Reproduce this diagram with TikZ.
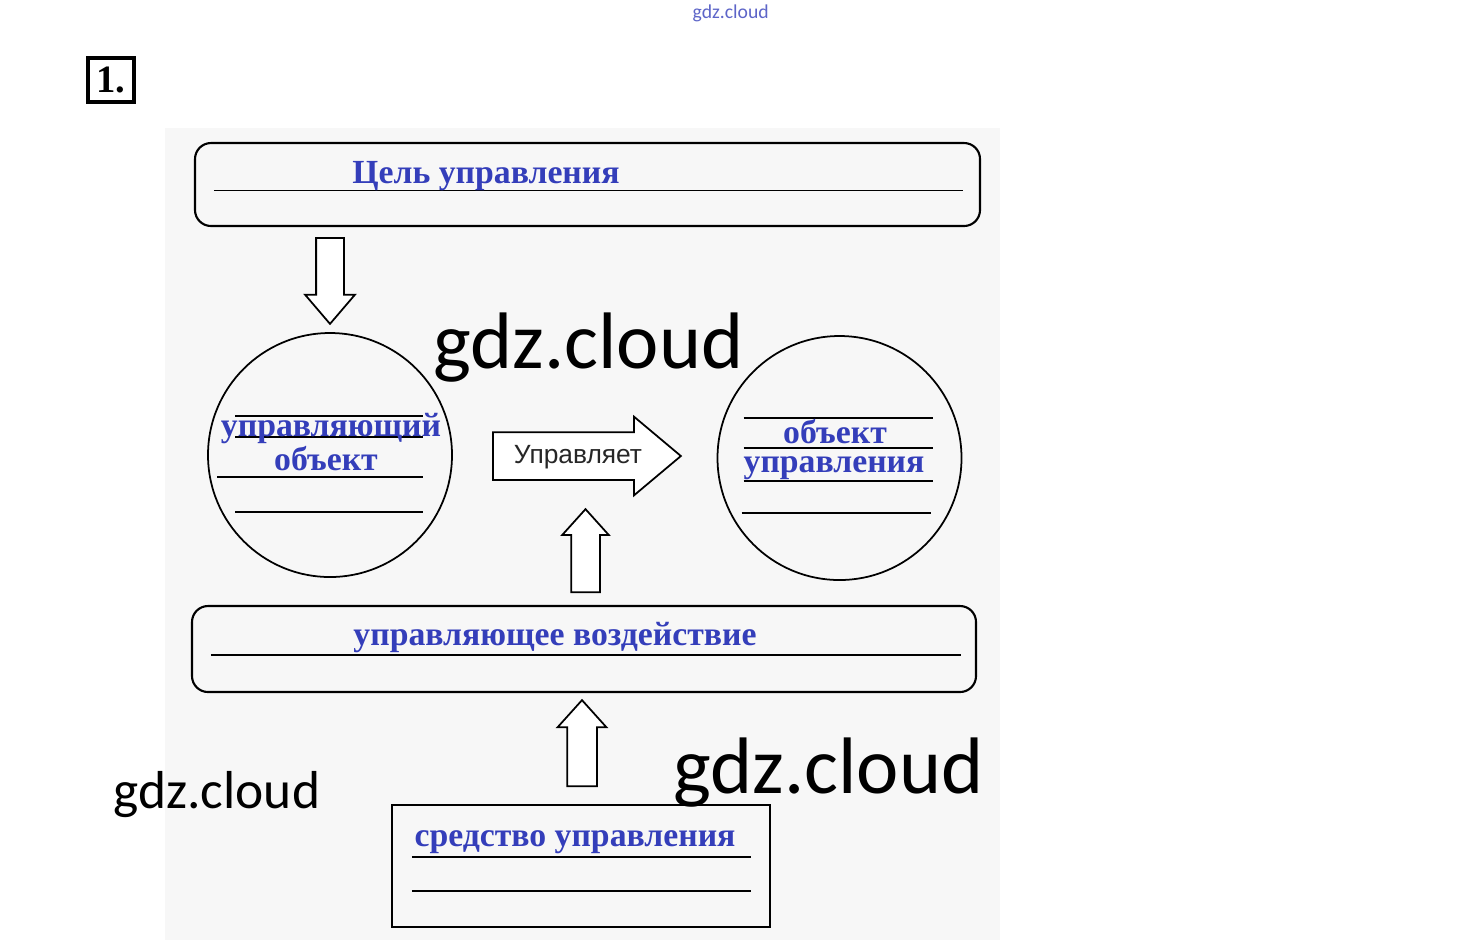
\documentclass[tikz,border=0pt]{standalone}
\usepackage{fontspec}
\setmainfont{Liberation Serif}
\setsansfont{Liberation Sans}
\newfontfamily\wmfont{Carlito}
\usetikzlibrary{shapes.arrows,calc}
\definecolor{cyrblue}{RGB}{52,62,186}
\definecolor{sheetgray}{RGB}{247,247,247}

\begin{document}
\begin{tikzpicture}[x=0.1mm, y=-0.1mm, every node/.style={inner sep=0pt}]
\tikzset{panel/.style={draw, line width=0.6pt, rounded corners=1.6mm}}
\tikzset{orb/.style={draw, circle, line width=0.5pt, minimum size=24.4mm}}
\tikzset{caption/.style={font=\bfseries\fontsize{9.6}{12}\selectfont, text=cyrblue, anchor=base}}
\tikzset{rule/.style={line width=0.4pt}}
\tikzset{hollow/.style={draw, single arrow, line width=0.5pt, fill=white, anchor=tail, inner xsep=0pt}}
\tikzset{stamp/.style={anchor=base west}}
\useasboundingbox (0,0) rectangle (1460,942);
\fill[sheetgray] (165,128) rectangle (1000,940);
\node[stamp, font=\wmfont\fontsize{5.6}{6}\selectfont, text=cyrblue!80] (mark0) at (692,18) {gdz.cloud};
\node[draw, line width=1.2pt, minimum width=4.6mm, minimum height=4.4mm, font=\bfseries\fontsize{11}{12}\selectfont] (num) at (111,80) {1.};
\node[panel, minimum width=78.5mm, minimum height=8.3mm] (goal) at (587.5,184.5) {};
\draw[rule] ($(goal.west)+(20,6)$) -- ($(goal.east)+(-18,6)$);
\node[caption] (goaltxt) at (486,183) {Цель управления};
\node[hollow, rotate=-90, minimum height=8.6mm, inner ysep=1.3mm, single arrow head extend=1.1mm, single arrow tip angle=81] (down) at (330,237) {};
\node[orb] (ctrl) at (330,455) {};
\draw[rule] ($(ctrl)+(-95,-39)$) -- ($(ctrl)+(93,-39)$);
\draw[rule] ($(ctrl)+(-95,-18)$) -- ($(ctrl)+(93,-18)$);
\draw[rule] ($(ctrl)+(-113,22)$) -- ($(ctrl)+(93,22)$);
\draw[rule] ($(ctrl)+(-95,57)$) -- ($(ctrl)+(93,57)$);
\node[caption] (ctrltxt) at (331,436) {управляющий};
\node[caption] (ctrltxt2) at (326,470) {объект};
\node[orb] (obj) at (839.5,458) {};
\draw[rule] ($(obj)+(-96,-40)$) -- ($(obj)+(93,-40)$);
\draw[rule] ($(obj)+(-96,-10)$) -- ($(obj)+(93,-10)$);
\draw[rule] ($(obj)+(-96,23)$) -- ($(obj)+(93,23)$);
\draw[rule] ($(obj)+(-98,55)$) -- ($(obj)+(91,55)$);
\node[caption] (objtxt) at (835,443) {объект};
\node[caption] (objtxt2) at (834,472) {управления};
\node[hollow, minimum height=18.8mm, inner ysep=2.3mm, single arrow head extend=1.55mm, single arrow tip angle=80] (rel) at (492,456) {};
\node[font=\sffamily\fontsize{7.5}{9}\selectfont, text=black!85, anchor=base] (reltxt) at (578,463) {Управляет};
\node[hollow, rotate=90, minimum height=8.3mm, inner ysep=1.35mm, single arrow head extend=0.9mm, single arrow tip angle=84] (up) at (585.5,593) {};
\node[panel, minimum width=78.4mm, minimum height=8.6mm] (act) at (584,649) {};
\draw[rule] ($(act.west)+(20,6)$) -- ($(act.east)+(-16,6)$);
\node[caption] (acttxt) at (555,645) {управляющее воздействие};
\node[hollow, rotate=90, minimum height=8.6mm, inner ysep=1.4mm, single arrow head extend=0.95mm, single arrow tip angle=84] (up2) at (582,787) {};
\node[draw, line width=0.6pt, minimum width=37.8mm, minimum height=12.2mm] (means) at (581,866) {};
\draw[rule] ($(means.west)+(21,-9)$) -- ($(means.east)+(-20,-9)$);
\draw[rule] ($(means.west)+(21,25)$) -- ($(means.east)+(-20,25)$);
\node[caption] (meanstxt) at (575,846) {средство управления};
\node[stamp, font=\wmfont\fontsize{22.8}{24}\selectfont] (mark1) at (433,368) {gdz.cloud};
\node[stamp, font=\wmfont\fontsize{22.8}{24}\selectfont] (mark2) at (673,793) {gdz.cloud};
\node[stamp, font=\wmfont\fontsize{15.2}{16}\selectfont] (mark3) at (113,808) {gdz.cloud};
\end{tikzpicture}
\end{document}
